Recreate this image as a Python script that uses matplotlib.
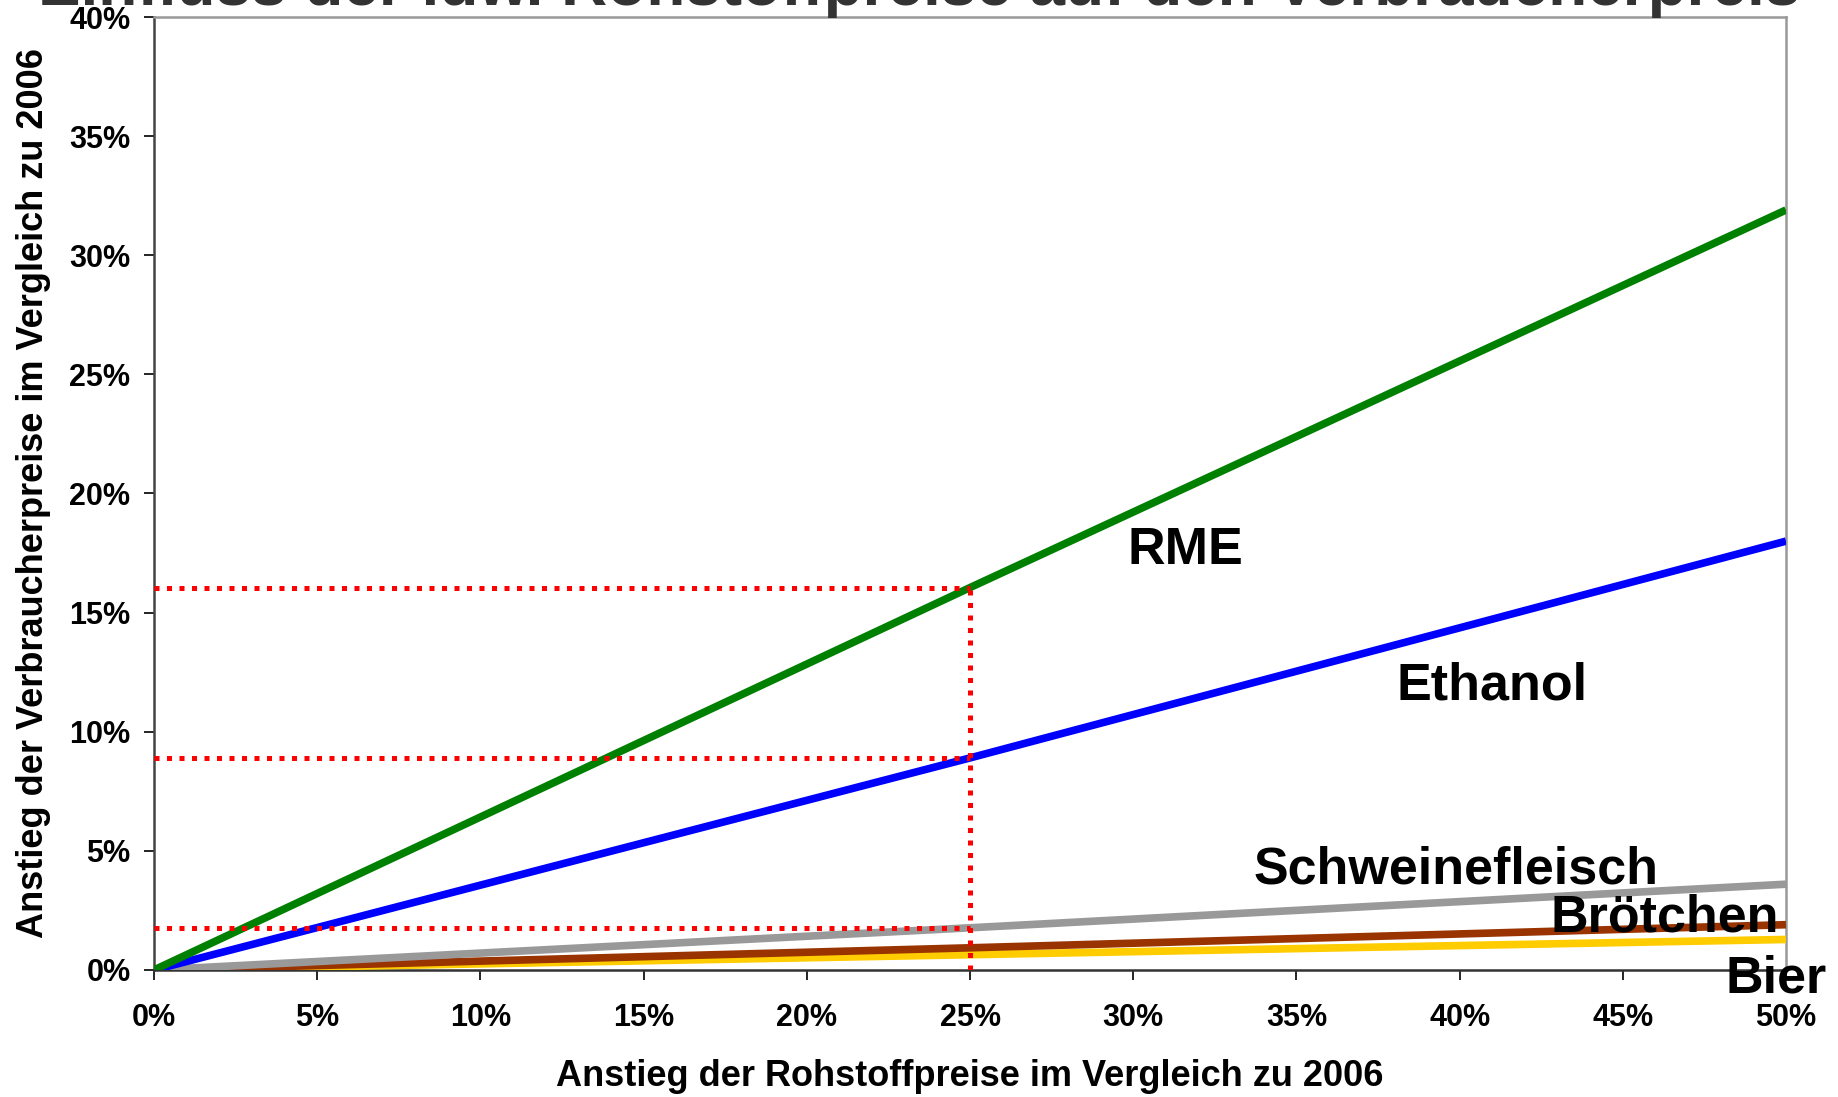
import numpy as np
import matplotlib.pyplot as plt

plt.rcParams['font.family'] = ['Liberation Sans', 'DejaVu Sans']
plt.rcParams['font.weight'] = 'bold'

# Anstieg der Rohstoffpreise (%)
rohstoff = [0, 25, 50]

# Anstieg der Verbraucherpreise (%)
series_names = ['Bier', 'Brötchen', 'Schweinefleisch', 'Ethanol', 'RME']
bier = [0, 0.64, 1.28]
broetchen = [0, 0.93, 1.90]
schweinefleisch = [0, 1.77, 3.60]
ethanol = [0, 8.90, 18.0]
rme = [0, 16.05, 31.9]

x_ticks = np.arange(0, 51, 5)
y_ticks = np.arange(0, 41, 5)

title = 'Einfluss der ldw. Rohstoffpreise auf den Verbraucherpreis'
xlabel = 'Anstieg der Rohstoffpreise im Vergleich zu 2006'
ylabel = 'Anstieg der Verbraucherpreise im Vergleich zu 2006'


def draw():
    colors = ['#FFCC00', '#993300', '#999999', '#0000FF', '#008000']
    values = [bier, broetchen, schweinefleisch, ethanol, rme]
    # label positions in data coords (x %, y %)
    label_pos = [(49.7, -0.4), (46.3, 2.2), (39.9, 4.2), (41.0, 11.9), (31.6, 17.6)]

    fig = plt.figure(figsize=(18.38, 10.97), dpi=100)
    ax = fig.add_axes([0.0838, 0.1158, 0.8879, 0.8687])

    for name, vals, c in zip(series_names, values, colors):
        ax.plot(rohstoff, vals, color=c, lw=5.5, solid_capstyle='butt', zorder=3)

    # red dotted guide lines at 25 %
    mark = rohstoff[1]
    dot = dict(color='#FF0000', lw=3.6, ls=(0, (1, 1.5)), zorder=4)
    for vals in (rme, ethanol, schweinefleisch):
        ax.plot([0, mark], [vals[1], vals[1]], **dot)
    ax.plot([mark, mark], [0, rme[1]], **dot)

    for name, (lx, ly) in zip(series_names, label_pos):
        ax.text(lx, ly, name, fontsize=37.5, fontweight='bold', ha='center',
                va='center', clip_on=False, zorder=5)

    ax.set_xlim(0, 50)
    ax.set_ylim(0, 40)
    ax.set_xticks(x_ticks)
    ax.set_yticks(y_ticks)
    ax.set_xticklabels(['{:d}%'.format(v) for v in x_ticks])
    ax.set_yticklabels(['{:d}%'.format(v) for v in y_ticks])
    ax.tick_params(axis='both', direction='out', length=7, width=1.2,
                   labelsize=22)
    ax.tick_params(axis='x', pad=17)
    ax.tick_params(axis='y', pad=10)

    ax.spines['left'].set_color('#444444')
    ax.spines['bottom'].set_color('#333333')
    ax.spines['top'].set_color('#999999')
    ax.spines['right'].set_color('#999999')
    for s in ax.spines.values():
        s.set_linewidth(1.8)

    ax.set_xlabel(xlabel, fontsize=26, fontweight='bold')
    ax.set_ylabel(ylabel, fontsize=26, fontweight='bold')
    ax.yaxis.set_label_coords(-0.063, 0.5)
    ax.xaxis.set_label_coords(0.5, -0.093)

    fig.text(0.5, 1 - 5 / 1097, title, fontsize=46, fontweight='bold',
             color='#333333', ha='center', va='baseline')

    fig.savefig('out.png', dpi=100)


if __name__ == '__main__':
    draw()
